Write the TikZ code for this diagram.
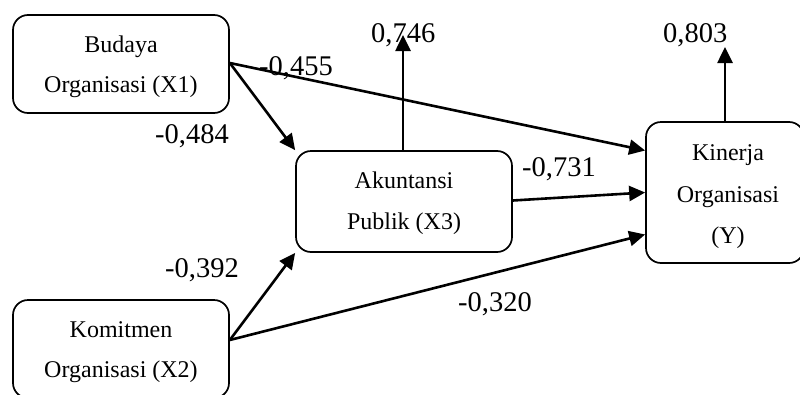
\documentclass[tikz,border=0pt]{standalone}
\usepackage{fontspec}
\setmainfont{Liberation Serif}
\usetikzlibrary{arrows.meta,calc}
\tikzset{
  box/.style={draw, line width=1.7pt, rounded corners=15pt, rectangle, inner sep=0pt},
  boxtext/.style={anchor=base, inner sep=0pt, font=\fontsize{24}{24}\selectfont},
  coef/.style={anchor=base west, inner sep=0pt, font=\fontsize{28.5}{28.5}\selectfont},
  path/.style={line width=2.6pt, -{Triangle[length=16pt,width=15pt]}}
}
\begin{document}
\begin{tikzpicture}[x=1pt,y=-1pt]
\useasboundingbox (0,0) rectangle (800,394);
% boxes
\node[box, minimum width=216pt, minimum height=98pt] (x1) at (121,64) {};
\node[box, minimum width=216pt, minimum height=98pt] (x2) at (121,349) {};
\node[box, minimum width=216pt, minimum height=101pt] (x3) at (404,201.5) {};
\node[box, minimum width=158pt, minimum height=141pt] (y) at (725,192.5) {};
% box texts
\node[boxtext] (x1a) at (121,52) {Budaya};
\node[boxtext] (x1b) at (121,92) {Organisasi (X1)};
\node[boxtext] (x2a) at (121,337) {Komitmen};
\node[boxtext] (x2b) at (121,377) {Organisasi (X2)};
\node[boxtext] (x3a) at (404,188) {Akuntansi};
\node[boxtext] (x3b) at (404,229) {Publik (X3)};
\node[boxtext] (ya) at (728,160) {Kinerja};
\node[boxtext] (yb) at (728,202) {Organisasi};
\node[boxtext] (yc) at (728,243) {(Y)};
% coefficients
\node[coef] (c455) at (259,75) {-0,455};
\node[coef] (c484) at (155,143) {-0,484};
\node[coef] (c746) at (371,42) {0,746};
\node[coef] (c803) at (663,42) {0,803};
\node[coef] (c731) at (522,176) {-0,731};
\node[coef] (c392) at (165,277) {-0,392};
\node[coef] (c320) at (458,311) {-0,320};
% free ends
\coordinate (r3) at (403,35);
\coordinate (ry) at (725,47);
% connectors
\draw[path] ($(x1.east)+(0,-1)$) -- (x3.north west);
\draw[path] ($(x1.east)+(0,-1)$) -- ($(y.west)+(0,-42)$);
\draw[path] ($(x2.east)+(0,-9)$) -- (x3.south west);
\draw[path] ($(x2.east)+(0,-9)$) -- ($(y.west)+(0,42)$);
\draw[path] ($(x3.east)+(0,-1)$) -- (y.west);
\draw[path] (x3.north -| r3) -- (r3);
\draw[path] (y.north) -- (ry);
\end{tikzpicture}
\end{document}
